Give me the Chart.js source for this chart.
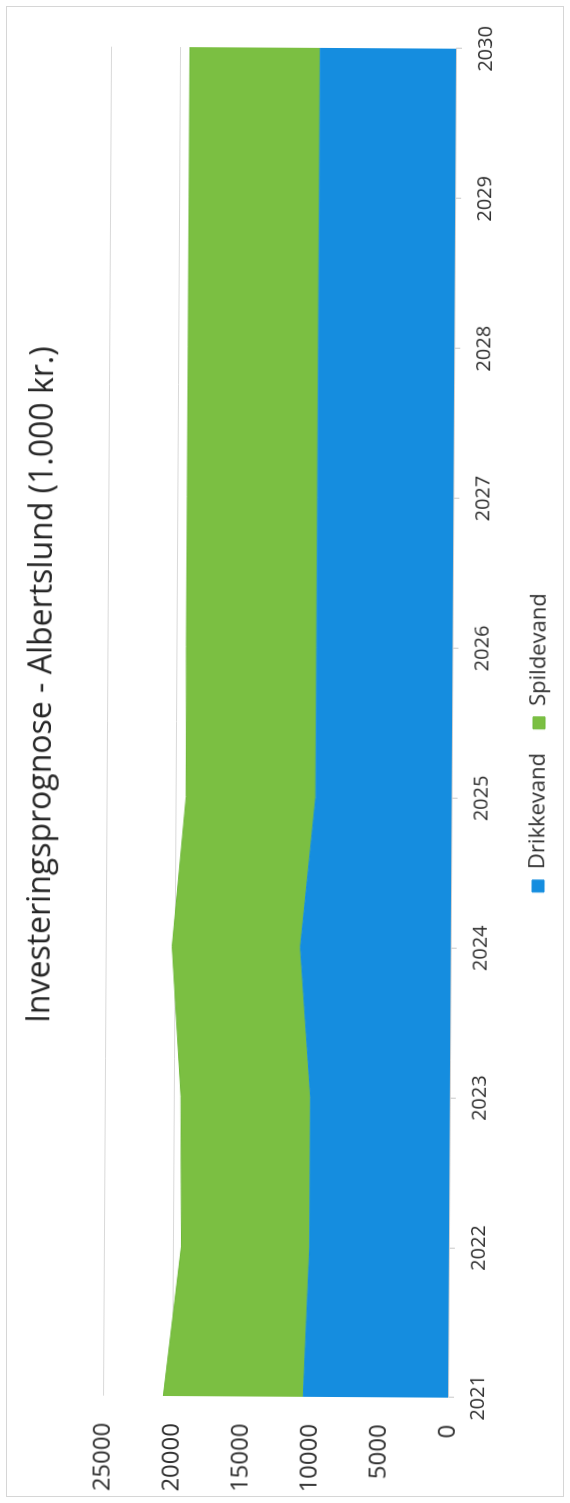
<!DOCTYPE html>
<html>
<head>
<meta charset="utf-8">
<script src="https://cdn.jsdelivr.net/npm/chart.js@4.4.0/dist/chart.umd.min.js"></script>
<style>
  html, body { margin: 0; padding: 0; background: #fff; }
  body { width: 570px; height: 1503px; overflow: hidden; position: relative; }
  .frame { position: absolute; left: 6px; top: 6px; width: 556px; height: 1489px; border: 1px solid #d6d6d6; }
  /* the chart was scanned sideways (and a bit crooked), so draw it landscape and turn it */
  .rot { position: absolute; left: 0; top: 0; width: 1503px; height: 570px;
         transform-origin: 0 0; transform: translate(-4.6px, 1501px) rotate(-89.66deg); }
</style>
</head>
<body>
<div class="frame"></div>
<div class="rot"><canvas id="chart" width="1503" height="570"></canvas></div>
<script>
// Data (1.000 kr.)
const years = ['2021', '2022', '2023', '2024', '2025', '2026', '2027', '2028', '2029', '2030'];
const drikkevand = [10500, 10100, 10100, 10900, 9850, 9850, 9850, 9850, 9850, 9850];
const spildevand = [10150, 9300, 9400, 9300, 9400, 9450, 9450, 9450, 9450, 9450];
const yMin = 0;
const yMax = 25000;
const yStep = 5000;

const textColor = '#2e2e2e';
const fontFamily = '"Open Sans", "Liberation Sans", sans-serif';

// title and legend sit a little right of the canvas centre in the original
const titleShift = 89;
const legendShift = 34;

const shiftBlocks = {
  id: 'shiftBlocks',
  afterLayout: function(chart) {
    const t = chart.titleBlock;
    if (t) {
      t.left += titleShift;
      t.right += titleShift;
    }
    const l = chart.legend;
    if (l) {
      l.left += legendShift;
      l.right += legendShift;
    }
  }
};

const ctx = document.getElementById('chart').getContext('2d');

new Chart(ctx, {
  type: 'line',
  data: {
    labels: years,
    datasets: [{
      label: 'Drikkevand',
      data: drikkevand,
      borderColor: '#158ddf',
      backgroundColor: '#158ddf',
      borderWidth: 1,
      pointRadius: 0,
      tension: 0,
      fill: 'origin'
    }, {
      label: 'Spildevand',
      data: spildevand,
      borderColor: '#6fb93a',
      backgroundColor: '#7bbf42',
      borderWidth: 1,
      pointRadius: 0,
      tension: 0,
      fill: '-1'
    }]
  },
  plugins: [shiftBlocks],
  options: {
    responsive: false,
    animation: false,
    layout: {
      padding: { left: 0, right: 48, top: 0, bottom: 10 }
    },
    plugins: {
      title: {
        display: true,
        text: 'Investeringsprognose - Albertslund (1.000 kr.)',
        color: '#262626',
        font: { family: fontFamily, size: 32, weight: 'normal' },
        padding: { top: 23, bottom: 46 }
      },
      legend: {
        position: 'bottom',
        labels: {
          color: textColor,
          font: { family: fontFamily, size: 22 },
          boxWidth: 12,
          boxHeight: 12,
          padding: 24
        }
      },
      tooltip: { enabled: false }
    },
    scales: {
      x: {
        offset: false,
        grid: {
          drawOnChartArea: false,
          tickLength: 6,
          color: '#c8c8c8'
        },
        border: { color: '#d0d0d0' },
        ticks: {
          color: textColor,
          font: { family: fontFamily, size: 20 },
          padding: 12,
          maxRotation: 0
        },
        afterFit: function(scale) {
          scale.height = scale.height - 2;
        }
      },
      y: {
        stacked: true,
        min: yMin,
        max: yMax,
        grid: {
          color: '#d9d9d9',
          drawTicks: false
        },
        border: { display: false },
        ticks: {
          stepSize: yStep,
          color: textColor,
          font: { family: fontFamily, size: 24 },
          padding: 27,
          callback: function(value) {
            return String(value);
          }
        },
        afterFit: function(scale) {
          scale.width = 106;
        }
      }
    }
  }
});
</script>
</body>
</html>
